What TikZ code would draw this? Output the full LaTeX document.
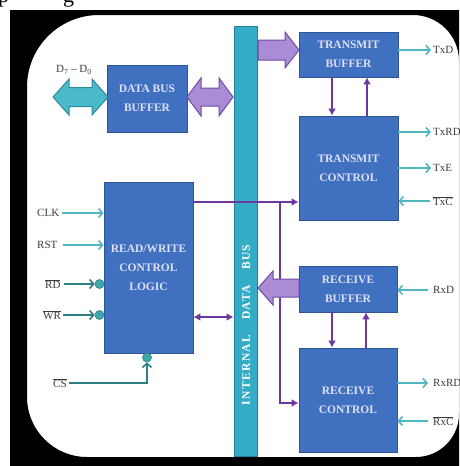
\documentclass[tikz,border=0pt]{standalone}
\usepackage{fontspec}
\setmainfont{Liberation Serif}
\usetikzlibrary{arrows.meta}
\definecolor{boxblue}{RGB}{64,112,192}
\definecolor{boxedge}{RGB}{46,84,150}
\definecolor{boxtext}{RGB}{222,224,244}
\definecolor{busteal}{RGB}{52,172,198}
\definecolor{busedge}{RGB}{34,128,158}
\definecolor{vio}{RGB}{108,56,160}
\definecolor{lav}{RGB}{170,140,212}
\definecolor{lavedge}{RGB}{112,74,168}
\definecolor{sig}{RGB}{80,182,192}
\definecolor{sigdark}{RGB}{44,128,134}
\definecolor{bubfill}{RGB}{60,168,168}
\definecolor{lbl}{RGB}{60,60,60}
\definecolor{dteal}{RGB}{74,186,202}
\definecolor{dtealedge}{RGB}{40,140,158}
\begin{document}
\begin{tikzpicture}[x=1pt,y=-1pt,
  blk/.style={draw=boxedge, line width=0.8pt, fill=boxblue, text=boxtext,
    align=center, font=\fontsize{11.5}{19}\selectfont\bfseries, inner sep=0pt},
  lab/.style={text=lbl, font=\fontsize{11}{13}\selectfont, inner sep=0pt},
  sigarr/.style={draw=sig, line width=1.6pt, -{Straight Barb[length=4pt,width=9pt]}},
  sigdk/.style={draw=sigdark, line width=1.6pt, -{Straight Barb[length=4pt,width=9pt]}},
  bubble/.style={circle, fill=bubfill, draw=sigdark, line width=0.6pt, minimum size=9pt, inner sep=0pt},
  vline/.style={draw=vio, line width=2.6pt},
  vtip/.style={-{Latex[length=7pt,width=8pt]}},
  blockarr/.style={fill=lav, draw=lavedge, line width=1pt, line join=miter},
]
\useasboundingbox (0,0) rectangle (459,466);
\fill[white] (0,0) rectangle (459,466);

% cropped caption fragment at the very top
\begin{scope}
\clip (0,0) rectangle (120,10);
\node[anchor=base west, inner sep=0pt, font=\fontsize{22}{24}\selectfont] (capp) at (-2,2.5) {p};
\node[anchor=base west, inner sep=0pt, font=\fontsize{22}{24}\selectfont] (capg) at (63,2.5) {g};
\end{scope}

% internal data bus
\node[draw=busedge, line width=1pt, fill=busteal, minimum width=23pt, minimum height=430pt, inner sep=0pt] (bus) at (245.5,241.5) {};
\node[rotate=90, text=white, inner sep=0pt, font=\fontsize{11.5}{14}\selectfont\bfseries\addfontfeatures{LetterSpace=12}] (bustxt) at (246,325)
  {INTERNAL\hspace{15pt}DATA\hspace{15pt}BUS};

% blocks
\node[blk, minimum width=80pt, minimum height=67pt] (dbb) at (147,98.5) {DATA BUS\\BUFFER};
\node[blk, minimum width=89pt, minimum height=171pt] (rw) at (148.5,267.5) {READ/WRITE\\CONTROL\\LOGIC};
\node[blk, minimum width=99pt, minimum height=45pt] (tb) at (348.5,54.5) {TRANSMIT\\BUFFER};
\node[blk, minimum width=99pt, minimum height=104pt] (tc) at (348.5,168) {TRANSMIT\\CONTROL};
\node[blk, minimum width=98pt, minimum height=46pt] (rb) at (348,289) {RECEIVE\\BUFFER};
\node[blk, minimum width=98pt, minimum height=104pt] (rc) at (348,400) {RECEIVE\\CONTROL};

% purple control lines
\coordinate (j) at (280,202);
\coordinate (k) at (280,403);
\coordinate (m) at (200,317);
\draw[vline, vtip] (rw.east |- j) -- (tc.west |- j);
\draw[vline, vtip] (j) -- (k) -- (rc.west |- k);
\draw[vline, {Latex[length=7pt,width=8pt]}-{Latex[length=7pt,width=8pt]}] (rw.east |- m) -- (bus.west |- m);
\draw[vline, vtip] (tb.south -| 332,0) -- (tc.north -| 332,0);
\draw[vline, vtip] (tc.north -| 367,0) -- (tb.south -| 367,0);
\draw[vline, vtip] (rb.south -| 332,0) -- (rc.north -| 332,0);
\draw[vline, vtip] (rc.north -| 366,0) -- (rb.south -| 366,0);

% block arrows
\draw[fill=dteal, draw=dtealedge, line width=1pt]
  (53,97) -- (69,79) -- (69,87.5) -- (92,87.5) -- (92,79) -- (108,97)
  -- (92,115) -- (92,106.5) -- (69,106.5) -- (69,115) -- cycle;
\draw[blockarr]
  (187,97) -- (201,78) -- (201,88) -- (219,88) -- (219,78) -- (233,97)
  -- (219,116) -- (219,106) -- (201,106) -- (201,116) -- cycle;
\draw[blockarr]
  (258,40) -- (285,40) -- (285,32) -- (299,50) -- (285,68) -- (285,60) -- (258,60) -- cycle;
\draw[blockarr]
  (299,279) -- (273,279) -- (273,271) -- (258,288) -- (273,305) -- (273,297) -- (299,297) -- cycle;

% D7-D0 label
\node[lab] (dlab) at (74,70) {D\textsubscript{7} – D\textsubscript{0}};

% left inputs
\node[lab, anchor=west] (clk) at (37,213) {CLK};
\node[lab, anchor=west] (rst) at (37,245) {RST};
\node[lab, anchor=west] (rd) at (45,284) {$\overline{\mbox{RD}}$};
\node[lab, anchor=west] (wr) at (43,315) {$\overline{\mbox{WR}}$};
\node[lab, anchor=west] (cs) at (53,383) {$\overline{\mbox{CS}}$};
\draw[sigarr, shorten <=3pt] (clk.east) -- (clk.east -| rw.west);
\draw[sigarr, shorten <=5pt] (rst.east) -- (rst.east -| rw.west);
\node[bubble] (rdb) at (99.5,284) {};
\node[bubble] (wrb) at (99.5,315) {};
\node[bubble] (csb) at (147,357.5) {};
\draw[sigdk, shorten <=3pt] (rd.east) -- (rdb.west);
\draw[sigdk, shorten <=2pt] (wr.east) -- (wrb.west);
\draw[sigdk, shorten <=2pt] (cs.east) -| (csb.south);

% right side signals
\node[lab, anchor=west] (txd) at (433,50) {TxD};
\node[lab, anchor=west] (txrdy) at (433,132) {TxRDY};
\node[lab, anchor=west] (txe) at (433,168) {TxE};
\node[lab, anchor=west] (txc) at (433,201) {$\overline{\mbox{TxC}}$};
\node[lab, anchor=west] (rxd) at (433,290) {RxD};
\node[lab, anchor=west] (rxrdy) at (433,383) {RxRDY};
\node[lab, anchor=west] (rxc) at (433,421) {$\overline{\mbox{RxC}}$};
\draw[sigarr, shorten >=2pt] (tb.east |- txd.west) -- (txd.west);
\draw[sigarr, shorten >=2pt] (tc.east |- txrdy.west) -- (txrdy.west);
\draw[sigarr, shorten >=2pt] (tc.east |- txe.west) -- (txe.west);
\draw[sigarr, shorten <=3pt] (txc.west) -- (tc.east |- txc.west);
\draw[sigarr, shorten <=5pt] (rxd.west) -- (rb.east |- rxd.west);
\draw[sigarr, shorten >=5pt] (rc.east |- rxrdy.west) -- (rxrdy.west);
\draw[sigarr, shorten <=5pt] (rxc.west) -- (rc.east |- rxc.west);

% black frame with rounded white window
\fill[black, even odd rule] (10,10) rectangle (459,466)
  (27,87) .. controls (27,47.2) and (59.2,15) .. (99,15)
  -- (413,15) .. controls (438.4,15) and (459,35.6) .. (459,61)
  -- (459,414) .. controls (459,437.7) and (439.7,457) .. (416,457)
  -- (87,457) .. controls (53.9,457) and (27,430.1) .. (27,397) -- cycle;
\end{tikzpicture}
\end{document}
